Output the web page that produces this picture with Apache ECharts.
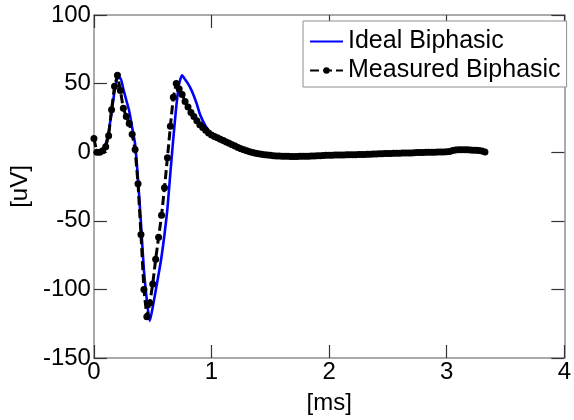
<!DOCTYPE html>
<html>
<head>
<meta charset="utf-8">
<script src="https://cdn.jsdelivr.net/npm/echarts@6/dist/echarts.min.js"></script>
<style>
html,body{margin:0;padding:0;background:#fff;}
#chart{width:574px;height:420px;}
</style>
</head>
<body>
<div id="chart"></div>
<script>
// sample times [ms]
var timeMs = [
0.000,0.025,0.050,0.075,0.100,0.125,0.150,0.175,0.200,0.225,
0.250,0.275,0.300,0.325,0.350,0.375,0.400,0.425,0.450,0.475,
0.500,0.525,0.550,0.575,0.600,0.625,0.650,0.675,0.700,0.725,
0.750,0.775,0.800,0.825,0.850,0.875,0.900,0.925,0.950,0.975,
1.000,1.025,1.050,1.075,1.100,1.125,1.150,1.175,1.200,1.225,
1.250,1.275,1.300,1.325,1.350,1.375,1.400,1.425,1.450,1.475,
1.500,1.525,1.550,1.575,1.600,1.625,1.650,1.675,1.700,1.725,
1.750,1.775,1.800,1.825,1.850,1.875,1.900,1.925,1.950,1.975,
2.000,2.025,2.050,2.075,2.100,2.125,2.150,2.175,2.200,2.225,
2.250,2.275,2.300,2.325,2.350,2.375,2.400,2.425,2.450,2.475,
2.500,2.525,2.550,2.575,2.600,2.625,2.650,2.675,2.700,2.725,
2.750,2.775,2.800,2.825,2.850,2.875,2.900,2.925,2.950,2.975,
3.000,3.025,3.050,3.075,3.100,3.125,3.150,3.175,3.200,3.225,
3.250,3.275,3.300,3.325
];
// Ideal Biphasic [uV]
var idealUV = [
0,0,0.5,2,6,15,29,44,54,54,
46,38,30,18,6,-20,-52,-86,-108,-123,
-113,-101,-89,-76,-60,-41,-15,10,33,50,
56,53,50,46,41,35,28,23,19,16,
13.5,12,10.8,9.7,8.6,7.5,6.5,5.5,4.5,3.5,
2.6,1.8,1,0.4,-0.2,-0.7,-1.1,-1.5,-1.8,-2.1,
-2.3,-2.5,-2.7,-2.8,-2.9,-3.0,-3.0,-3.1,-3.1,-3.1,
-3.0,-3.0,-2.9,-2.9,-2.8,-2.7,-2.6,-2.5,-2.4,-2.3,
-2.2,-2.2,-2.1,-2.1,-2.0,-2.0,-1.9,-1.9,-1.8,-1.8,
-1.7,-1.7,-1.6,-1.5,-1.5,-1.4,-1.3,-1.2,-1.1,-1.0,
-1.0,-0.9,-0.8,-0.8,-0.7,-0.6,-0.6,-0.5,-0.5,-0.4,
-0.3,-0.3,-0.2,-0.1,-0.1,0,0,0.1,0.2,0.2,
0.3,0.5,0.8,1.0,1.1,1.1,1.1,1.1,1.0,1.0,
0.9,0.8,0.6,0.3
];
// Measured Biphasic [uV]
var measuredUV = [
10,0,0,1,4,12,31,48,56,45,
32,26,21,13,2,-23,-60,-100,-120,-110,
-96,-78,-62,-46,-26,-4,19,40,50,46,
42,37,33,29,26,23,20,18,16,14,
12.5,11.5,10.5,9.5,8.5,7.5,6.5,5.5,4.5,3.5,
2.6,1.8,1,0.4,-0.2,-0.7,-1.1,-1.5,-1.8,-2.1,
-2.3,-2.5,-2.7,-2.8,-2.9,-3.0,-3.0,-3.1,-3.1,-3.1,
-3.0,-3.0,-2.9,-2.9,-2.8,-2.7,-2.6,-2.5,-2.4,-2.3,
-2.2,-2.2,-2.1,-2.1,-2.0,-2.0,-1.9,-1.9,-1.8,-1.8,
-1.7,-1.7,-1.6,-1.5,-1.5,-1.4,-1.3,-1.2,-1.1,-1.0,
-1.0,-0.9,-0.8,-0.8,-0.7,-0.6,-0.6,-0.5,-0.5,-0.4,
-0.3,-0.3,-0.2,-0.1,-0.1,0,0,0.1,0.2,0.2,
0.3,0.6,1.2,1.6,1.8,1.8,1.8,1.7,1.6,1.5,
1.4,1.2,0.8,0.2
];
var xTicks = [0, 4, 1];      // min, max, interval
var yTicks = [-150, 100, 50];
var seriesNames = ['Ideal Biphasic', 'Measured Biphasic'];

function pairs(t, v) {
  var out = [];
  for (var i = 0; i < t.length && i < v.length; i++) out.push([t[i], v[i]]);
  return out;
}

var FONT = '"Liberation Sans", Arial, sans-serif';
var axisLineCol = '#8f8f8f';
var tickCol = '#333';

function xAx(pos, show) {
  return {
    type: 'value', position: pos, min: xTicks[0], max: xTicks[1], interval: xTicks[2],
    name: show ? '[ms]' : '', nameLocation: 'middle', nameGap: 33,
    nameTextStyle: {fontFamily: FONT, fontSize: 24, color: '#000'},
    axisLine: {show: true, onZero: false, lineStyle: {color: axisLineCol, width: 1.5}},
    axisTick: {show: true, inside: true, length: 13, lineStyle: {color: tickCol, width: 1.2}},
    axisLabel: {show: show, margin: 2, fontFamily: FONT, fontSize: 24, color: '#000'},
    splitLine: {show: false}
  };
}
function yAx(pos, show) {
  return {
    type: 'value', position: pos, min: yTicks[0], max: yTicks[1], interval: yTicks[2],
    name: show ? '[uV]' : '', nameLocation: 'middle', nameGap: 58, nameRotate: 90,
    nameTextStyle: {fontFamily: FONT, fontSize: 24, color: '#000'},
    axisLine: {show: true, onZero: false, lineStyle: {color: axisLineCol, width: 1.5}},
    axisTick: {show: true, inside: true, length: 13, lineStyle: {color: tickCol, width: 1.2}},
    axisLabel: {show: show, margin: 3, fontFamily: FONT, fontSize: 24, color: '#000'},
    splitLine: {show: false}
  };
}

var chart = echarts.init(document.getElementById('chart'), null, {renderer: 'canvas'});
chart.setOption({
  animation: false,
  backgroundColor: '#fff',
  grid: {left: 92, right: 5, top: 15, bottom: 62, containLabel: false},
  xAxis: [xAx('bottom', true), xAx('top', false)],
  yAxis: [yAx('left', true), yAx('right', false)],
  legend: {
    orient: 'vertical', left: 303, top: 21,
    backgroundColor: '#fff', borderColor: '#8f8f8f', borderWidth: 1,
    padding: [8, 6, 4, 6],
    itemWidth: 33, itemHeight: 8, itemGap: 4,
    textStyle: {fontFamily: FONT, fontSize: 25, color: '#000', lineHeight: 25},
    data: [
      {name: seriesNames[0], itemStyle: {opacity: 0}},
      {name: seriesNames[1]}
    ]
  },
  series: [
    {
      name: seriesNames[0], type: 'line', data: pairs(timeMs, idealUV),
      showSymbol: false, symbol: 'none', smooth: 0.2,
      lineStyle: {color: '#0000ff', width: 2.6},
      itemStyle: {color: '#0000ff'}, z: 2
    },
    {
      name: seriesNames[1], type: 'line', data: pairs(timeMs, measuredUV),
      symbol: 'circle', symbolSize: 7, showAllSymbol: true,
      lineStyle: {color: '#000', width: 3, type: [9, 4]},
      itemStyle: {color: '#000'}, z: 3
    }
  ]
});
</script>
</body>
</html>
